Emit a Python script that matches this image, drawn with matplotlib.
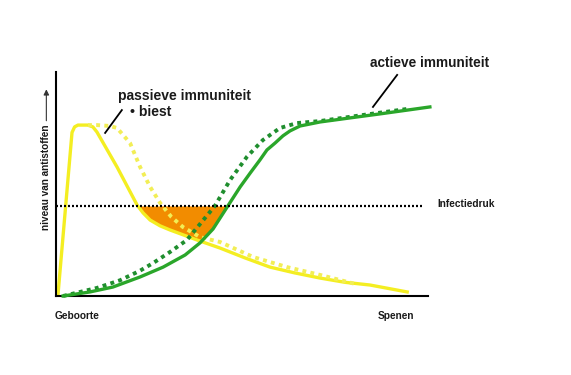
"""Antistoffen bij het kalf: passieve (biest) vs actieve immuniteit t.o.v. infectiedruk."""

import matplotlib
matplotlib.use("Agg")
import matplotlib.pyplot as plt
import numpy as np

plt.rcParams["font.family"] = ["Liberation Sans", "DejaVu Sans"]
plt.rcParams["font.weight"] = "bold"

# tijd (0 = geboorte, 100 = spenen) / niveau (0-100)
passief_x = [0.5, 4.3, 5.0, 5.9, 8.5, 9.9, 11.0, 16.4, 21.8, 23.4, 25.3, 28.0, 30.6, 37.9,
             44.1, 50.8, 57.5, 64.2, 71.0, 77.7, 84.4, 94.4]
passief_y = [0.0, 73.0, 75.5, 76.3, 76.3, 75.5, 73.2, 57.6, 40.6, 37.1, 33.9, 31.3, 29.5, 25.0,
             21.4, 17.0, 12.9, 10.3, 8.0, 6.1, 4.9, 1.8]

passief_biest_x = [8.6, 11.0, 14.5, 16.4, 19.9, 22.6, 25.3, 28.0, 31.0, 34.1, 38.7, 44.1, 53.0,
                   62.1, 71.0, 80.4]
passief_biest_y = [76.3, 76.3, 75.9, 75.0, 68.3, 57.6, 48.7, 41.5, 35.3, 30.8, 26.3, 24.1, 17.4,
                   12.9, 9.4, 5.4]

actief_x = [1.9, 9.1, 15.3, 22.6, 28.8, 34.7, 38.7, 42.2, 46.0, 49.5, 52.2, 54.8, 56.7, 58.9,
            61.0, 62.9, 65.6, 71.0, 79.0, 87.1, 100.5]
actief_y = [0.0, 1.8, 4.0, 8.5, 12.9, 18.3, 23.7, 29.9, 39.7, 48.7, 54.9, 60.7, 65.2, 68.3,
            71.5, 73.7, 75.9, 77.7, 79.5, 81.3, 84.4]

actief_biest_x = [1.9, 11.0, 17.2, 22.6, 26.1, 30.6, 35.2, 38.7, 42.7, 46.8, 51.3, 55.6, 60.2,
                  64.8, 71.0, 82.5, 94.4]
actief_biest_y = [0.0, 3.6, 7.0, 11.3, 14.7, 19.6, 25.0, 32.1, 40.2, 51.8, 62.1, 69.6, 75.0,
                  77.2, 78.1, 80.8, 83.5]

infectiedruk = 40.2
infectiedruk_x = [0.0, 99.0]

YELLOW = "#f4ee22"
YELLOW_DOT = "#f2ee55"
GREEN = "#2aa62a"
GREEN_DOT = "#1f8e2e"
ORANGE = "#f28c00"
TXT = "#1a1a1a"


def plot():
    fig = plt.figure(figsize=(5.71, 3.75), dpi=100)
    ax = fig.add_axes([0.0981, 0.2107, 0.6515, 0.5973])

    # oranje gat: onder infectiedruk, boven beide (getrokken) curves
    xs = np.linspace(0, 100, 800)
    yp = np.interp(xs, passief_x, passief_y)
    ya = np.interp(xs, actief_x, actief_y)
    low = np.maximum(yp, ya)
    piek = passief_x[int(np.argmax(passief_y))]
    gat = (xs > piek) & (low < infectiedruk)
    ax.fill_between(xs, low, infectiedruk, where=gat, color=ORANGE, lw=0, zorder=1)

    ax.plot(infectiedruk_x, [infectiedruk] * 2, color="black", lw=1.6,
            dashes=(0.9, 0.9), zorder=4)

    ax.plot(passief_x, passief_y, color=YELLOW, lw=2.4, solid_joinstyle="round", zorder=2)
    ax.plot(passief_biest_x, passief_biest_y, color=YELLOW_DOT, lw=2.8,
            dashes=(1, 1.1), zorder=2)
    ax.plot(actief_biest_x, actief_biest_y, color=GREEN_DOT, lw=2.8,
            dashes=(1, 1.1), zorder=3, clip_on=False)
    ax.plot(actief_x, actief_y, color=GREEN, lw=2.4, solid_joinstyle="round", zorder=3,
            clip_on=False)

    ax.set_xlim(0, 100)
    ax.set_ylim(0, 100)
    for s in ["top", "right"]:
        ax.spines[s].set_visible(False)
    for s in ["left", "bottom"]:
        ax.spines[s].set_linewidth(1.5)
        ax.spines[s].set_color("black")
    ax.set_xticks([])
    ax.set_yticks([])

    ax.text(16.7, 89.3, "passieve immuniteit", fontsize=10, color=TXT, va="center")
    ax.text(19.9, 82.1, "• biest", fontsize=10, color=TXT, va="center")
    ax.plot([17.7, 13.2], [83.0, 72.8], color="black", lw=1.3, clip_on=False)

    ax.text(84.4, 104.0, "actieve immuniteit", fontsize=9.8, color=TXT, va="center",
            clip_on=False)
    ax.plot([91.7, 85.2], [98.7, 84.4], color="black", lw=1.3, clip_on=False)

    ax.text(102.4, 41.1, "Infectiedruk", fontsize=7.3, color=TXT, va="center")
    ax.text(-0.3, -8.9, "Geboorte", fontsize=7.3, color=TXT, va="center")
    ax.text(86.6, -8.9, "Spenen", fontsize=7.3, color=TXT, va="center")

    ax.text(-2.6, 53.0, "niveau van antistoffen", fontsize=7.2, color=TXT,
            rotation=90, ha="center", va="center")
    ax.annotate("", xy=(-2.6, 93.5), xytext=(-2.6, 77.0),
                arrowprops=dict(arrowstyle="-|>", color="#333333", lw=0.8,
                                mutation_scale=8),
                annotation_clip=False)

    fig.savefig("out.png", dpi=100)


def main() -> None:
    plot()


if __name__ == "__main__":
    main()
